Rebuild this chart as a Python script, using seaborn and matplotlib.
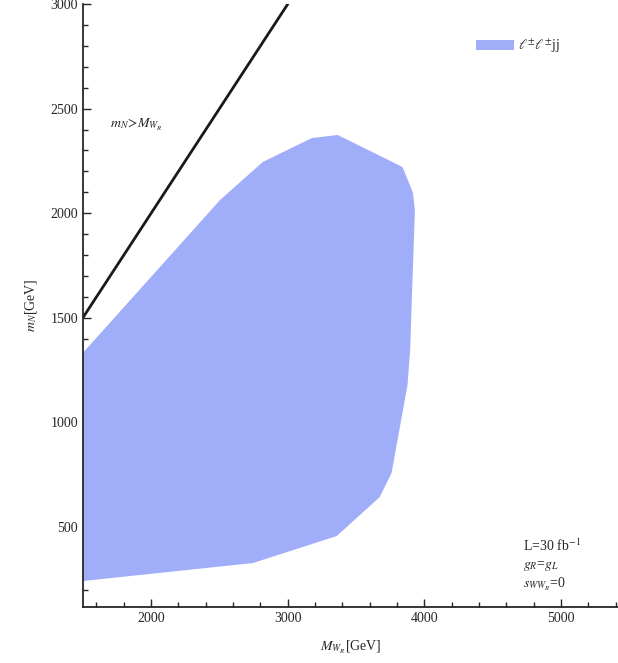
import matplotlib
matplotlib.use("Agg")
import matplotlib.pyplot as plt
import seaborn as sns
import pandas as pd
from matplotlib.ticker import MultipleLocator

# boundary of the l+- l+- jj region (M_WR, m_N) in GeV
mwr_region = [1500, 2745, 3358, 3672, 3759, 3876, 3895, 3930, 3915, 3839, 3365, 3175, 2817, 2504, 1500]
mn_region = [242, 328, 457, 643, 758, 1179, 1346, 2015, 2100, 2221, 2374, 2359, 2245, 2063, 1332]

# m_N = M_WR line
line_mwr = [1500, 3000]
line_mn = [1500, 3000]

sns.set_style("ticks")
plt.rcParams['font.family'] = ['Liberation Serif', 'DejaVu Serif']
plt.rcParams['mathtext.fontset'] = 'stix'

fig = plt.figure(figsize=(6.18, 6.63), dpi=100)
ax = fig.add_axes([0.134, 0.0845, 0.866, 0.9095])

ax.fill(mwr_region, mn_region, color='#a0aefa', lw=0, label=r'$\ell^{\pm}\ell^{\pm}$jj')

df_line = pd.DataFrame({'mwr': line_mwr, 'mn': line_mn})
sns.lineplot(data=df_line, x='mwr', y='mn', color='#1a1a1a', lw=2, ax=ax, legend=False)

ax.set_xlim(1500, 5416)
ax.set_ylim(118, 3000)
ax.xaxis.set_major_locator(MultipleLocator(1000))
ax.xaxis.set_minor_locator(MultipleLocator(200))
ax.yaxis.set_major_locator(MultipleLocator(500))
ax.yaxis.set_minor_locator(MultipleLocator(100))
ax.tick_params(which='both', direction='in', labelsize=10, width=1)
ax.tick_params(which='major', length=6)
ax.tick_params(which='minor', length=3.5)
ax.set_yticks([500, 1000, 1500, 2000, 2500, 3000])

sns.despine(ax=ax, top=True, right=True)
for s in ['left', 'bottom']:
    ax.spines[s].set_linewidth(1.3)

ax.set_xlabel(r'$M_{W_R}$[GeV]', fontsize=10, labelpad=10)
ax.set_ylabel(r'$m_N$[GeV]', fontsize=10, labelpad=8)

ax.text(1700, 2420, r'$m_N\!>\!M_{W_R}$', fontsize=10, va='center')

ax.text(4720, 413, r'L=30 fb$^{-1}$', fontsize=10, va='center')
ax.text(4720, 316, r'$g_R$=$g_L$', fontsize=10, va='center')
ax.text(4720, 225, r'$s_{WW_R}$=0', fontsize=10, va='center')

ax.legend(loc='upper right', bbox_to_anchor=(0.916, 0.965), frameon=False,
          fontsize=10, handlelength=2.7, handleheight=0.7, handletextpad=0.3)

fig.savefig('out.png', dpi=100)
